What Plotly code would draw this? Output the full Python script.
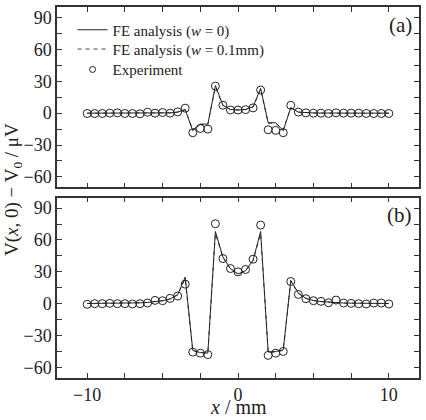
import plotly.graph_objects as go
from plotly.subplots import make_subplots

x = [-10, -9.5, -9, -8.5, -8, -7.5, -7, -6.5, -6, -5.5, -5, -4.5, -4, -3.5, -3, -2.5, -2, -1.5, -1, -0.5,
     0, 0.5, 1, 1.5, 2, 2.5, 3, 3.5, 4, 4.5, 5, 5.5, 6, 6.5, 7, 7.5, 8, 8.5, 9, 9.5, 10]

# Panel (a)
exp_a = [-0.3, -0.3, -0.3, 0, 0.3, -0.3, -0.3, -0.6, 0.9, 0, 0.6, 0, 1.2, 4.7, -18.4, -14.4, -15, 25.5, 7.5, 3,
         3, 3.3, 5, 21.8, -15.6, -16.2, -18.4, 7.4, 1, 0.3, 0, 0, -0.3, 0.3, 0, 0, 0, -0.3, -0.3, -0.3, -0.3]
fe0_a = [0, 0, 0, 0, 0, 0, 0, 0, 0.1, 0.1, 0.2, 0.3, 1, 3.5, -16.5, -10.3, -10.3, 26, 7.5, 3.5,
         3, 3.5, 6, 23.5, -9, -9, -16.5, 5.3, 1, 0.3, 0.2, 0.1, 0.1, 0, 0, 0, 0, 0, 0, 0, 0]
fe1_a = [0, 0, 0, 0, 0, 0, 0, 0, 0.1, 0.1, 0.2, 0.3, 1, 3.2, -15.5, -10.8, -10.8, 24.5, 7.2, 3.4,
         3, 3.4, 5.8, 22.5, -9.5, -9.5, -15.5, 5, 1, 0.3, 0.2, 0.1, 0.1, 0, 0, 0, 0, 0, 0, 0, 0]

# Panel (b)
exp_b = [-0.6, 0, 0, 0.3, 0, 0, -0.3, 0, 0.6, 3.1, 2.8, 5, 7.2, 18.4, -45.6, -46.6, -48, 75.3, 42.5, 33.1,
         30, 32.2, 41.9, 74, -48.7, -46.6, -45, 20.9, 8.7, 4.7, 2.8, 2.2, 0.9, 3.4, 0.6, 0.3, 0, -0.3, 0.6, 0.6, -0.3]
fe0_b = [0.2, 0.2, 0.3, 0.3, 0.4, 0.5, 0.6, 0.8, 1.2, 1.8, 2.8, 4.5, 8.5, 25, -44, -46, -46.5, 68, 44, 33,
         28, 31, 41, 68, -45.5, -45, -43.5, 22, 10, 5, 3, 2, 1.3, 0.9, 0.6, 0.5, 0.4, 0.3, 0.3, 0.2, 0.2]
fe1_b = [0.2, 0.2, 0.3, 0.3, 0.4, 0.5, 0.6, 0.8, 1.2, 1.8, 2.8, 4.4, 8.2, 23.5, -44.5, -46.3, -46.8, 66, 43.5, 32.8,
         28, 30.8, 40.5, 66, -46, -45.5, -44, 21, 9.7, 4.9, 3, 2, 1.3, 0.9, 0.6, 0.5, 0.4, 0.3, 0.3, 0.2, 0.2]

x_tickvals = [-10, -7.5, -5, -2.5, 0, 2.5, 5, 7.5, 10]
x_ticktext = ["−10", "", "", "", "0", "", "", "", "10"]
y_tickvals = [-60, -45, -30, -15, 0, 15, 30, 45, 60, 75, 90]
y_ticktext = ["−60", "", "−30", "", "0", "", "30", "", "60", "", "90"]

FONT = "Liberation Serif, Times New Roman, serif"
AX = "#333333"
TXT = "#222222"
DASH = "4px,4px"

fig = make_subplots(rows=2, cols=1, shared_xaxes=False, vertical_spacing=0.027)

for row, (e, f0, f1) in enumerate([(exp_a, fe0_a, fe1_a), (exp_b, fe0_b, fe1_b)], start=1):
    fig.add_trace(go.Scatter(x=x, y=f1, mode="lines", name="FE analysis (<i>w</i> = 0.1mm)",
                             line=dict(color="#444444", width=1, dash=DASH), showlegend=False), row=row, col=1)
    fig.add_trace(go.Scatter(x=x, y=f0, mode="lines", name="FE analysis (<i>w</i> = 0)",
                             line=dict(color="#222222", width=1), showlegend=False), row=row, col=1)
    fig.add_trace(go.Scatter(x=x, y=e, mode="markers", name="Experiment",
                             marker=dict(symbol="circle-open", size=8, color="#222222", line=dict(width=1)),
                             showlegend=False), row=row, col=1)

# legend entries, one legend per row for exact placement
fig.add_trace(go.Scatter(x=[None], y=[None], mode="lines", name="FE analysis (<i>w</i> = 0)",
                         line=dict(color="#222222", width=1), legend="legend"), row=1, col=1)
fig.add_trace(go.Scatter(x=[None], y=[None], mode="lines", name="FE analysis (<i>w</i> = 0.1mm)",
                         line=dict(color="#444444", width=1, dash=DASH), legend="legend2"), row=1, col=1)
fig.add_trace(go.Scatter(x=[None], y=[None], mode="markers", name="Experiment",
                         marker=dict(symbol="circle-open", size=6, color="#222222", line=dict(width=1)),
                         legend="legend3"), row=1, col=1)

axis_common = dict(showgrid=False, zeroline=False, showline=True, linecolor=AX, linewidth=1.5,
                   mirror="ticks", ticks="inside", ticklen=5, tickwidth=1.2, tickcolor=AX,
                   tickfont=dict(family=FONT, size=18, color=TXT))

fig.update_xaxes(range=[-12, 12], tickvals=x_tickvals, ticktext=x_ticktext, **axis_common)
fig.update_xaxes(showticklabels=False, row=1, col=1)
fig.update_yaxes(range=[-70, 100], tickvals=y_tickvals, ticktext=y_ticktext, **axis_common)

leg_common = dict(x=0.043, xanchor="left", yanchor="middle", bgcolor="rgba(0,0,0,0)",
                  font=dict(family=FONT, size=15, color=TXT), itemwidth=30)

fig.update_layout(
    width=426, height=420,
    margin=dict(l=57, r=6, t=5, b=42),
    plot_bgcolor="white", paper_bgcolor="white",
    font=dict(family=FONT, color=TXT),
    legend=dict(y=0.938, **leg_common),
    legend2=dict(y=0.886, **leg_common),
    legend3=dict(y=0.831, **leg_common),
    annotations=[
        dict(text="(a)", x=0.985, y=0.99, xref="paper", yref="paper", xanchor="right", yanchor="top",
             showarrow=False, font=dict(family=FONT, size=21, color=TXT)),
        dict(text="(b)", x=0.985, y=0.477, xref="paper", yref="paper", xanchor="right", yanchor="top",
             showarrow=False, font=dict(family=FONT, size=21, color=TXT)),
        dict(text="V(<i>x</i>, 0) − V<sub>0</sub> / μV", x=-0.122, y=0.509, xref="paper", yref="paper",
             xanchor="center", yanchor="middle",
             textangle=-90, showarrow=False, font=dict(family=FONT, size=19, color=TXT)),
        dict(text="<i>x</i> / mm", x=0.501, y=-0.1126, xref="paper", yref="paper", yanchor="bottom",
             showarrow=False, font=dict(family=FONT, size=20, color=TXT)),
    ],
)

fig.write_html("out.html")
